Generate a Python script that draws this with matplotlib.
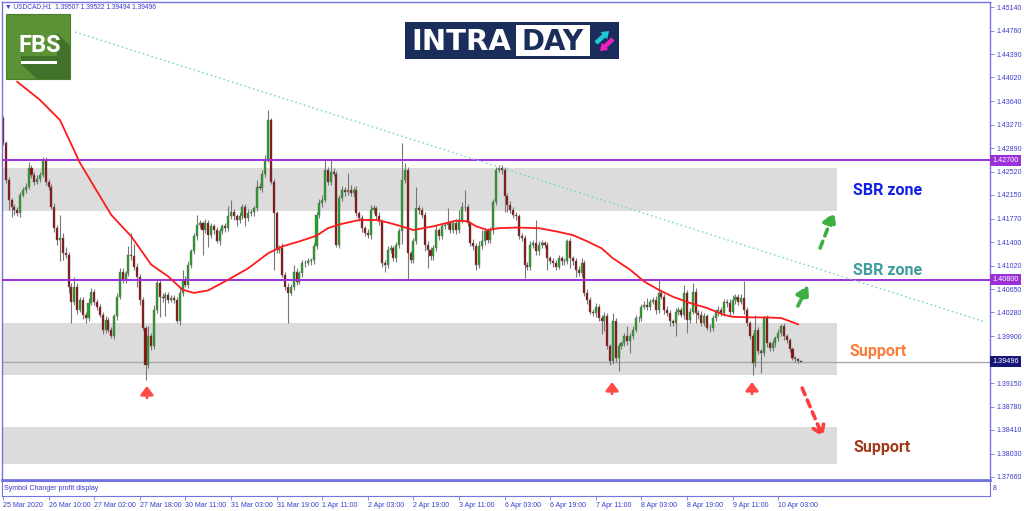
import matplotlib
matplotlib.use("Agg")
import matplotlib.pyplot as plt
from matplotlib.patches import Rectangle, Polygon, FancyArrow
import matplotlib.transforms as mtransforms
import numpy as np

plt.rcParams['font.family'] = ['Liberation Sans', 'DejaVu Sans']

# region data (USDCAD H1)
first_open = 1.4337
closes = [
    1.4297, 1.4239, 1.4207, 1.4196, 1.4191, 1.4186, 1.4215, 1.4223, 1.4228, 1.4257,
    1.4247, 1.4236, 1.4241, 1.4247, 1.4271, 1.4236, 1.4228, 1.4196, 1.4162, 1.4143,
    1.4146, 1.4122, 1.4120, 1.4069, 1.4045, 1.4069, 1.4032, 1.4048, 1.4024, 1.4019,
    1.4043, 1.4061, 1.4045, 1.4037, 1.4024, 1.4000, 1.4016, 1.4000, 1.3990, 1.4022,
    1.4053, 1.4093, 1.4080, 1.4090, 1.4120, 1.4117, 1.4101, 1.4085, 1.4048, 1.4003,
    1.3945, 1.3990, 1.3974, 1.4032, 1.4075, 1.4053, 1.4051, 1.4056, 1.4048, 1.4051,
    1.4048, 1.4014, 1.4059, 1.4080, 1.4072, 1.4104, 1.4125, 1.4149, 1.4167, 1.4170,
    1.4159, 1.4170, 1.4151, 1.4165, 1.4159, 1.4141, 1.4157, 1.4165, 1.4162, 1.4181,
    1.4188, 1.4181, 1.4175, 1.4181, 1.4196, 1.4178, 1.4186, 1.4188, 1.4194, 1.4228,
    1.4226, 1.4249, 1.4271, 1.4334, 1.4236, 1.4186, 1.4128, 1.4130, 1.4088, 1.4069,
    1.4059, 1.4069, 1.4093, 1.4077, 1.4090, 1.4106, 1.4107, 1.4109, 1.4111, 1.4133,
    1.4183, 1.4202, 1.4207, 1.4255, 1.4236, 1.4252, 1.4249, 1.4135, 1.4210, 1.4223,
    1.4220, 1.4223, 1.4218, 1.4223, 1.4186, 1.4178, 1.4162, 1.4154, 1.4151, 1.4191,
    1.4194, 1.4181, 1.4173, 1.4106, 1.4104, 1.4128, 1.4130, 1.4114, 1.4135, 1.4157,
    1.4239, 1.4255, 1.4122, 1.4112, 1.4141, 1.4194, 1.4191, 1.4183, 1.4135, 1.4128,
    1.4117, 1.4130, 1.4159, 1.4149, 1.4165, 1.4167, 1.4170, 1.4159, 1.4170, 1.4159,
    1.4175, 1.4196, 1.4196, 1.4170, 1.4138, 1.4133, 1.4104, 1.4133, 1.4141, 1.4157,
    1.4143, 1.4159, 1.4204, 1.4255, 1.4257, 1.4255, 1.4213, 1.4199, 1.4191, 1.4183,
    1.4181, 1.4149, 1.4146, 1.4104, 1.4101, 1.4135, 1.4138, 1.4125, 1.4135, 1.4138,
    1.4135, 1.4114, 1.4109, 1.4106, 1.4101, 1.4114, 1.4109, 1.4109, 1.4141, 1.4114,
    1.4109, 1.4096, 1.4090, 1.4106, 1.4059, 1.4048, 1.4029, 1.4027, 1.4037, 1.4019,
    1.4014, 1.4022, 1.3974, 1.3950, 1.4014, 1.3955, 1.3974, 1.3979, 1.3990, 1.3982,
    1.3990, 1.4000, 1.4019, 1.4019, 1.4037, 1.4040, 1.4037, 1.4045, 1.4048, 1.4032,
    1.4059, 1.4053, 1.4032, 1.4027, 1.4014, 1.4011, 1.4029, 1.4032, 1.4024, 1.4059,
    1.4016, 1.4029, 1.4061, 1.4027, 1.4024, 1.4011, 1.4022, 1.4003, 1.4003, 1.4019,
    1.4029, 1.4032, 1.4027, 1.4045, 1.4043, 1.4029, 1.4048, 1.4053, 1.4045, 1.4051,
    1.4032, 1.4011, 1.3990, 1.3947, 1.4000, 1.3966, 1.3963, 1.4019, 1.3979, 1.3971,
    1.3979, 1.3987, 1.3995, 1.4006, 1.3990, 1.3984, 1.3969, 1.3955, 1.3953, 1.39507,
    1.39496]

# wick lengths in pips above / below the body
wick_up = [
    4, 3, 4, 3, 5, 4, 5, 4, 6, 11,
    5, 4, 6, 5, 5, 4, 5, 4, 6, 5,
    37, 8, 10, 4, 5, 16, 6, 5, 4, 4,
    8, 5, 4, 5, 4, 5, 6, 4, 5, 4,
    6, 5, 6, 4, 13, 34, 20, 5, 4, 5,
    4, 16, 5, 8, 6, 5, 6, 4, 5, 4,
    5, 4, 8, 16, 6, 5, 4, 6, 16, 5,
    4, 6, 5, 6, 4, 5, 6, 4, 5, 16,
    19, 5, 4, 6, 5, 4, 6, 5, 4, 11,
    6, 5, 8, 16, 4, 5, 4, 6, 8, 4,
    5, 4, 10, 5, 4, 6, 4, 5, 4, 6,
    5, 6, 8, 16, 5, 19, 6, 4, 5, 6,
    5, 27, 8, 5, 6, 4, 5, 4, 6, 8,
    5, 4, 6, 4, 5, 6, 5, 4, 5, 6,
    58, 10, 5, 4, 6, 34, 5, 4, 5, 6,
    4, 5, 8, 4, 6, 5, 24, 4, 5, 6,
    16, 8, 27, 5, 4, 6, 5, 8, 18, 5,
    6, 5, 5, 5, 5, 6, 4, 5, 6, 4,
    5, 4, 6, 5, 4, 6, 5, 37, 6, 5,
    4, 5, 4, 6, 5, 6, 4, 5, 3, 5,
    4, 5, 6, 8, 5, 6, 4, 5, 6, 4,
    5, 6, 5, 4, 13, 5, 6, 4, 5, 16,
    5, 6, 5, 4, 5, 6, 11, 5, 4, 6,
    21, 5, 4, 6, 5, 4, 6, 5, 4, 13,
    5, 6, 13, 5, 4, 6, 5, 4, 6, 5,
    4, 6, 5, 5, 4, 6, 8, 5, 4, 6,
    27, 5, 4, 5, 24, 5, 4, 3, 5, 4,
    5, 4, 6, 3, 5, 4, 3, 4, 3, 2,
    1.5]
wick_dn = [
    3, 5, 16, 16, 8, 5, 6, 4, 5, 4,
    5, 6, 4, 5, 4, 6, 5, 4, 6, 8,
    34, 10, 6, 10, 34, 5, 6, 4, 6, 8,
    5, 4, 6, 5, 4, 6, 5, 4, 3, 5,
    6, 4, 6, 5, 4, 5, 6, 16, 8, 3,
    24, 5, 6, 4, 5, 32, 6, 29, 5, 4,
    5, 3, 6, 5, 4, 6, 5, 4, 6, 5,
    40, 5, 19, 4, 6, 3, 5, 4, 6, 5,
    4, 6, 10, 5, 4, 13, 5, 4, 6, 5,
    4, 6, 5, 4, 3, 90, 5, 6, 4, 5,
    48, 4, 6, 5, 4, 6, 5, 4, 5, 6,
    4, 5, 6, 4, 5, 6, 4, 3, 5, 4,
    6, 5, 4, 6, 5, 4, 6, 5, 4, 6,
    5, 4, 6, 5, 11, 6, 5, 4, 6, 5,
    20, 5, 42, 6, 5, 4, 6, 5, 10, 30,
    6, 5, 4, 6, 5, 4, 6, 5, 4, 6,
    5, 4, 6, 5, 4, 6, 8, 5, 4, 6,
    5, 4, 6, 5, 4, 6, 26, 11, 5, 4,
    6, 5, 4, 21, 5, 6, 4, 5, 6, 4,
    5, 19, 4, 6, 5, 4, 6, 5, 4, 16,
    5, 11, 4, 6, 5, 6, 4, 5, 6, 4,
    21, 16, 5, 5, 4, 6, 21, 5, 4, 6,
    19, 5, 4, 6, 5, 4, 6, 5, 4, 6,
    5, 4, 6, 5, 8, 4, 21, 5, 4, 6,
    21, 5, 4, 16, 6, 5, 4, 3, 6, 5,
    4, 6, 5, 4, 6, 5, 4, 6, 5, 4,
    6, 5, 4, 19, 6, 5, 32, 4, 6, 5,
    4, 6, 5, 4, 6, 5, 4, 3, 4, 3,
    0.2]

# moving average (red line), read at these bars
ma_bars = [5, 13, 20, 27, 32, 38, 45, 52, 58, 63, 67, 72, 79, 86, 93, 98, 104, 110,
           114, 118, 125, 131, 135, 139, 144, 151, 159, 163, 166, 170, 174, 180, 188,
           194, 200, 205, 210, 214, 220, 225, 230, 235, 241, 247, 253, 256, 262, 268,
           273, 279]
ma_vals = [1.4395, 1.4366, 1.4334, 1.4266, 1.4228, 1.4183, 1.4149, 1.4104, 1.4085,
           1.4064, 1.4059, 1.4063, 1.4080, 1.4098, 1.4122, 1.4133, 1.4141, 1.4150,
           1.4162, 1.4168, 1.4175, 1.4175, 1.4171, 1.4166, 1.4159, 1.4165, 1.4174,
           1.4173, 1.4165, 1.4159, 1.4162, 1.4163, 1.4162, 1.4157, 1.4151, 1.4141,
           1.4130, 1.4114, 1.4096, 1.4077, 1.4064, 1.4053, 1.4043, 1.4035, 1.4024,
           1.4021, 1.4020, 1.4020, 1.4019, 1.4009]

levels = [1.42700, 1.40800]
last_price = 1.39496
zone_top = [1.42578, 1.40115, 1.38451]
zone_bot = [1.41893, 1.39283, 1.37862]
trend_bars = [25.3, 344.6]
trend_vals = [1.44742, 1.40127]

price_ticks = [1.45140, 1.44760, 1.44390, 1.44020, 1.43640, 1.43270, 1.42890, 1.42520,
               1.42150, 1.41770, 1.41400, 1.41020, 1.40650, 1.40280, 1.39900, 1.39530,
               1.39150, 1.38780, 1.38410, 1.38030, 1.37660]
time_labels = ['25 Mar 2020', '26 Mar 10:00', '27 Mar 02:00', '27 Mar 18:00',
               '30 Mar 11:00', '31 Mar 03:00', '31 Mar 19:00', '1 Apr 11:00',
               '2 Apr 03:00', '2 Apr 19:00', '3 Apr 11:00', '6 Apr 03:00',
               '6 Apr 19:00', '7 Apr 11:00', '8 Apr 03:00', '8 Apr 19:00',
               '9 Apr 11:00', '10 Apr 03:00']
# endregion data

n = len(closes)
x = np.arange(n)
c = np.array(closes)
o = np.concatenate([[first_open], c[:-1]])
hi = np.maximum(o, c) + np.array(wick_up) * 1e-4
lo = np.minimum(o, c) - np.array(wick_dn) * 1e-4

axis_col = '#7474e0'
text_col = '#3a3acb'

fig = plt.figure(figsize=(10.24, 5.11), dpi=100)
ax = fig.add_axes([2 / 1024, 1 - 480 / 511, 988 / 1024, 478 / 511])
ax.set_xlim(-0.35, 346.3)
ax.set_ylim(1.37612, 1.45220)

# zones
zone_right = 292.6
for t, b in zip(zone_top, zone_bot):
    ax.add_patch(Rectangle((-1, b), zone_right + 1, t - b, fc='#dcdcdc', ec='none', zorder=0))

ax.axhline(last_price, color='#a8a8a8', lw=1, zorder=1)

# candles
up = c >= o
ax.vlines(x, lo, hi, color='#777777', lw=0.8, zorder=2)
body_h = np.maximum(np.abs(c - o), 0.00004)
ax.bar(x, body_h, bottom=np.minimum(o, c), width=0.72,
       color=np.where(up, '#22a022', '#8c0a0a'), edgecolor='#6a6a6a', linewidth=0.3, zorder=2.5)

for lv in levels:
    ax.axhline(lv, color='#9b30d9', lw=1.4, zorder=3)

ax.plot(ma_bars, ma_vals, color='#ff1a1a', lw=1.3, zorder=4)
ax.plot(trend_bars, trend_vals, color='#7dd3d3', lw=1, ls=(0, (1.2, 2)), zorder=4, clip_on=False)

# red up arrows under the lows
for bx, tip in zip([50.5, 213.7, 262.8], [1.39108, 1.39172, 1.39172]):
    ax.annotate('', xy=(bx, tip), xytext=(bx, tip - 0.0019),
                arrowprops=dict(arrowstyle='-|>,head_width=0.38,head_length=0.5',
                                color='#ff4a4a', lw=2.0, mutation_scale=10,
                                shrinkA=0, shrinkB=0), zorder=5)

# dashed projection arrows
ax.annotate('', xy=(291.6, 1.41877), xytext=(286.7, 1.41304),
            arrowprops=dict(arrowstyle='-|>,head_width=0.4,head_length=0.7', color='#3cb043',
                            lw=2.6, ls=(0, (2, 1.6)), mutation_scale=10, shrinkA=0, shrinkB=0))
ax.annotate('', xy=(282.5, 1.40715), xytext=(278.9, 1.40381),
            arrowprops=dict(arrowstyle='-|>,head_width=0.4,head_length=0.7', color='#3cb043',
                            lw=2.6, ls=(0, (2, 1.6)), mutation_scale=10, shrinkA=0, shrinkB=0))
ax.annotate('', xy=(287.7, 1.38296), xytext=(280.4, 1.39076),
            arrowprops=dict(arrowstyle='->,head_width=0.4,head_length=0.6', color='#ff3b3b',
                            lw=2.6, ls=(0, (2, 1.6)), mutation_scale=10, shrinkA=0, shrinkB=0))

lbl = dict(fontsize=11.5, fontweight='bold', family=['Roboto', 'DejaVu Sans'], ha='center', va='center', zorder=6)
ax.text(310.5, 1.42227, 'SBR zone', color='#1020e8', **lbl)
ax.text(310.2, 1.40954, 'SBR zone', color='#3f9e9a', **lbl)
ax.text(307.0, 1.39665, 'Support', color='#ff7b39', **lbl)
ax.text(308.4, 1.38137, 'Support', color='#a33a1a', **lbl)

ax.text(0.003, 0.9895, '\u25bc USDCAD,H1  1.39507 1.39522 1.39494 1.39496', transform=ax.transAxes,
        fontsize=4.8, color=text_col, va='center', ha='left')

# price axis; the 1.39530 label sits under the current-price box
ax.yaxis.tick_right()
ax.set_yticks(price_ticks)
ax.set_yticklabels(['' if abs(p - last_price) < 0.0006 else '%.5f' % p for p in price_ticks])
ax.tick_params(axis='y', length=3, width=0.6, color=axis_col, labelsize=5, labelcolor=text_col, pad=2)
ax.set_xticks([])
for s in ax.spines.values():
    s.set_color(axis_col)
    s.set_linewidth(1)
ax.spines['bottom'].set_linewidth(2)

trans = mtransforms.blended_transform_factory(ax.transAxes, ax.transData)
box = dict(boxstyle='square,pad=0.3', ec='none')
for lv in levels:
    ax.text(1.0025, lv, '%.5f' % lv, transform=trans, fontsize=5.2, color='white', ha='left', va='center',
            bbox=dict(box, fc='#9b30d9'), zorder=7, clip_on=False)
ax.text(1.0025, last_price, '%.5f' % last_price, transform=trans, fontsize=5.2, color='white', ha='left',
        va='center', bbox=dict(box, fc='#16167a'), zorder=7, clip_on=False)

# sub window with the time axis
sub = fig.add_axes([2 / 1024, 1 - 496 / 511, 988 / 1024, 15 / 511])
sub.set_xlim(ax.get_xlim())
sub.set_ylim(0, 1)
sub.set_yticks([])
sub.set_xticks(np.arange(len(time_labels)) * 16)
sub.set_xticklabels(time_labels, ha='left')
sub.tick_params(axis='x', length=3, width=0.6, color=axis_col, labelsize=5, labelcolor=text_col, pad=1)
for s in sub.spines.values():
    s.set_color(axis_col)
sub.text(0.002, 0.5, 'Symbol Changer profit display', transform=sub.transAxes, fontsize=5,
         color=text_col, va='center')
sub.text(1.003, 0.5, '8', transform=sub.transAxes, fontsize=5, color=text_col, va='center')

# logos, drawn in pixel space
ov = fig.add_axes([0, 0, 1, 1], zorder=10)
ov.set_xlim(0, 1024)
ov.set_ylim(511, 0)
ov.axis('off')
ov.patch.set_alpha(0)

ov.add_patch(Rectangle((6, 14), 64, 65, fc='#5b9235', ec='#4b7d2b', lw=0.8))
ov.add_patch(Polygon([(57, 33), (70, 46), (70, 79), (37, 79), (21, 64), (21, 56), (57, 56)],
                     closed=True, fc='#41722a', ec='none'))
ov.text(39.5, 45, 'FBS', color='white', fontsize=17, fontweight='bold', family=['Roboto', 'DejaVu Sans'],
        ha='center', va='center')
ov.add_patch(Rectangle((21, 61), 36, 3, fc='white', ec='none'))

ov.add_patch(Rectangle((405, 22), 214, 37, fc='#1b2d5b', ec='none'))
ov.add_patch(Rectangle((516, 25), 74, 31, fc='white', ec='none'))
ov.text(411, 41.5, 'INTRA', color='white', fontsize=21, fontweight='bold', family='DejaVu Sans',
        ha='left', va='center')
ov.text(553, 41.5, 'DAY', color='#1b2d5b', fontsize=20, fontweight='bold', family='DejaVu Sans',
        ha='center', va='center')
ov.add_patch(FancyArrow(596, 43, 13, -12, width=4.5, head_width=10, head_length=7,
                        fc='#20c8d8', ec='none', length_includes_head=True))
ov.add_patch(FancyArrow(613, 39, -13, 12, width=4.5, head_width=10, head_length=7,
                        fc='#f020c0', ec='none', length_includes_head=True))

fig.savefig('out.png', dpi=100)
